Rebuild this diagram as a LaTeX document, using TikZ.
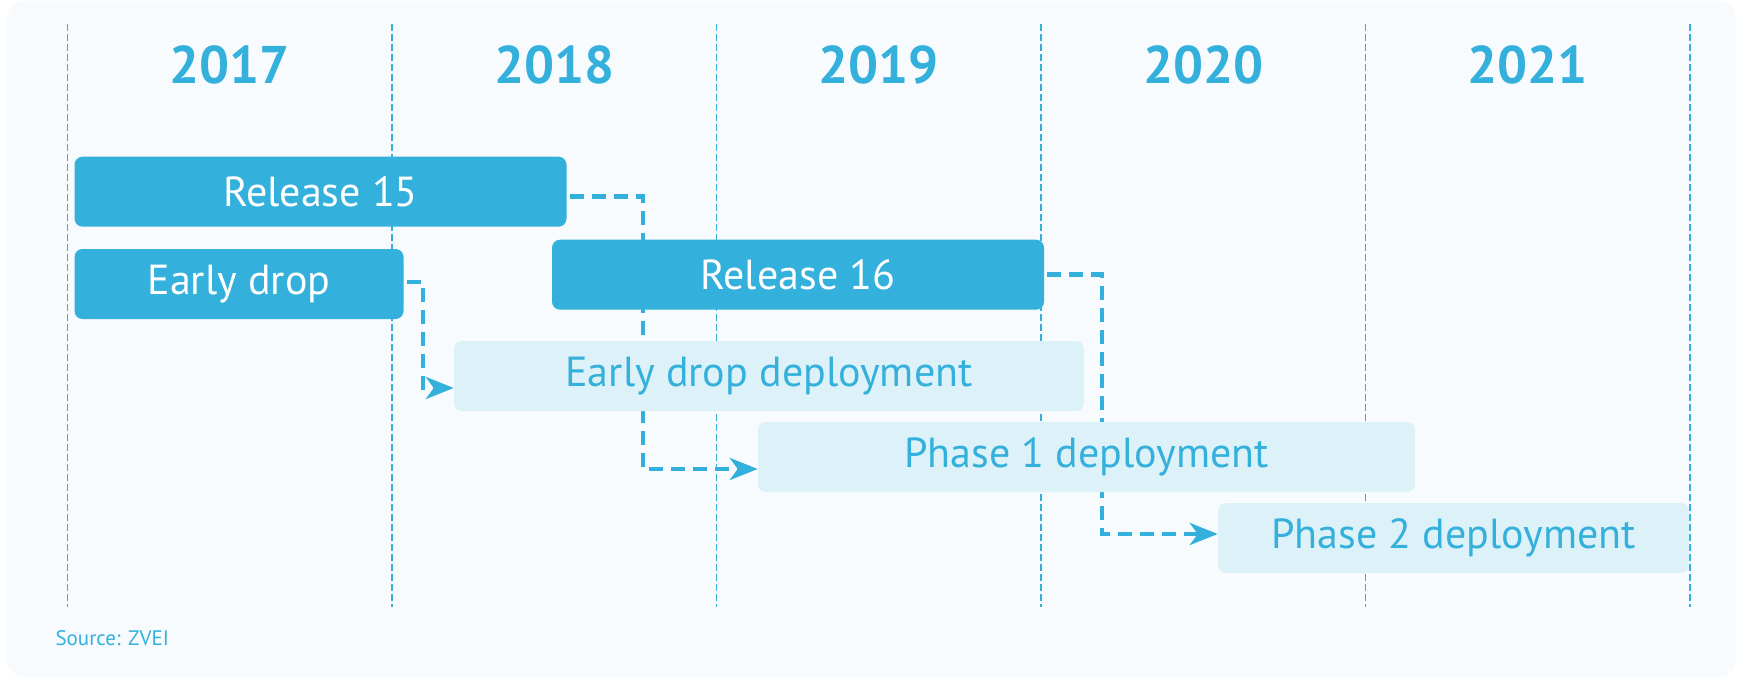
\documentclass[tikz,border=0pt]{standalone}
\usepackage{fontspec}
\setmainfont{PT Sans}
\usetikzlibrary{arrows.meta,backgrounds}

\definecolor{zvblue}{HTML}{33B0DB}
\definecolor{zvlight}{HTML}{DDF1F8}
\definecolor{zvback}{HTML}{F7FBFD}

\begin{document}
\begin{tikzpicture}[x=1pt, y=-1pt,
  bar/.style={rectangle, rounded corners=8pt, minimum height=70pt, inner sep=0pt,
    fill=zvblue, text=white, font=\fontsize{42}{50}\selectfont},
  deploy/.style={bar, fill=zvlight, text=zvblue},
  year/.style={text=zvblue, font=\fontsize{53}{64}\selectfont\bfseries},
  yearline/.style={zvblue, line width=1.8pt, dash pattern=on 7pt off 3pt},
  link/.style={zvblue, line width=4.5pt, dash pattern=on 14pt off 8pt,
    -{Stealth[length=28pt, width=22pt, inset=8pt]}}]
\useasboundingbox (0,0) rectangle (1742,679);

\node (y2017) at (229.7,65) [year] {2017};
\node (y2018) at (554.4,65) [year] {2018};
\node (y2019) at (878.8,65) [year] {2019};
\node (y2020) at (1203.2,65) [year] {2020};
\node (y2021) at (1527.6,65) [year] {2021};

\node (r15) at (320.5,191.7) [bar, minimum width=492pt] {Release 15};
\node (ed) at (239,284) [bar, minimum width=329pt] {Early drop};
\node (r16) at (798,274.7) [bar, minimum width=492pt] {Release 16};

\node (edd) at (769,376) [deploy, minimum width=630pt] {Early drop deployment};
\node (p1) at (1086.5,457) [deploy, minimum width=657pt] {Phase 1 deployment};
\node (p2) at (1453.5,538) [deploy, minimum width=471pt] {Phase 2 deployment};

\node (src) at (52,638) [anchor=west, text=zvblue, font=\fontsize{21}{25}\selectfont] {Source: ZVEI};

\coordinate (k1) at (643,469);
\coordinate (k2) at (423,388);
\coordinate (k3) at (1102,534);

\begin{scope}[on background layer]
\fill[zvback, rounded corners=18pt] (7,1) rectangle (1736,677);
\draw[yearline] (67.5,24) -- (67.5,607);
\draw[yearline] (392,24) -- (392,607);
\draw[yearline] (716.5,24) -- (716.5,607);
\draw[yearline] (1041,24) -- (1041,607);
\draw[yearline] (1365.5,24) -- (1365.5,607);
\draw[yearline] (1690,24) -- (1690,607);

\draw[link] ([xshift=3pt, yshift=-5pt]r15.east) -| (k1) -- ([yshift=-12pt]p1.west);
\draw[link] ([xshift=3pt, yshift=2pt]ed.east) -| (k2) -- ([yshift=-12pt]edd.west);
\draw[link] ([xshift=3pt]r16.east) -| (k3) -- ([yshift=4pt]p2.west);
\end{scope}
\end{tikzpicture}
\end{document}
